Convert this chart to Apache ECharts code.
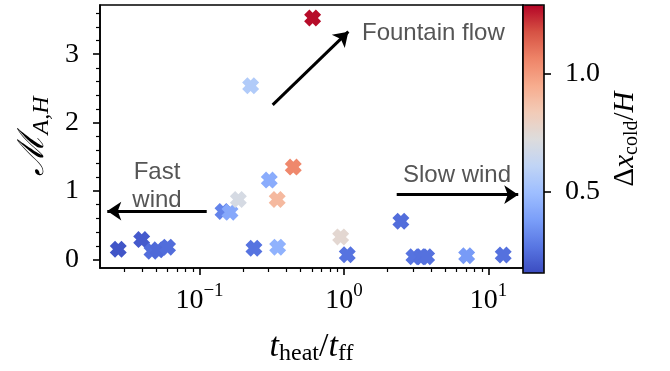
<!DOCTYPE html>
<html><head><meta charset="utf-8">
<script src="https://cdn.jsdelivr.net/npm/echarts@6/dist/echarts.min.js"></script>
<style>html,body{margin:0;padding:0;background:#fff}#c{width:670px;height:371px}</style>
</head><body><div id="c"></div>
<script>
// ---- data ----
const tHeat  = [0.0274, 0.0398, 0.0469, 0.0516, 0.0601, 0.1455, 0.1626, 0.1858, 0.2259, 0.2382, 0.3041, 0.3451, 0.3475, 0.4457, 0.6067, 0.9484, 1.054, 2.477, 3.048, 3.451, 3.733, 7.063, 12.65];
const machA  = [0.15, 0.29, 0.12, 0.14, 0.18, 0.70, 0.69, 0.875, 2.54, 0.165, 1.16, 0.875, 0.18, 1.35, 3.53, 0.33, 0.07, 0.56, 0.04, 0.04, 0.04, 0.055, 0.065];
const dxCold = [0.175, 0.19, 0.24, 0.23, 0.24, 0.30, 0.415, 0.69, 0.56, 0.255, 0.43, 0.905, 0.45, 1.055, 1.283, 0.757, 0.255, 0.24, 0.255, 0.25, 0.25, 0.37, 0.25];
const xMajorExp = [-1, 0, 1];
const yMajorTicks = [0, 1, 2, 3];
const cbarTicks = [0.5, 1.0];
const xRange = [0.02048, 17.34];
const yRange = [-0.125, 3.72];
const cRange = [0.152, 1.294];
const coolwarm = ['#3b4cc0','#5977e3','#7b9ff9','#9ebeff','#c0d4f5','#dddcdc','#f2cbb7','#f7ac8e','#ee8468','#d65244','#b40426'];
// arrows in data coords [x (t_heat/t_ff), y]
const arrowFountain = [[0.321, 2.26], [1.072, 3.33]];
const arrowFast = [[0.1122, 0.707], [0.0230, 0.707]];
const arrowSlow = [[2.317, 0.947], [16.07, 0.947]];

const lx0 = Math.log10(xRange[0]), lx1 = Math.log10(xRange[1]);
const xMinor = [];
for (let n = -2; n <= 1; n++) for (let k = 2; k <= 9; k++) {
  const v = Math.log10(k * Math.pow(10, n));
  if (v > lx0 && v < lx1) xMinor.push(v);
}
const yMinor = [];
for (let k = 1; k <= 18; k++) if (k % 5 !== 0) yMinor.push(Math.round(k * 2) / 10);

const SERIF = 'Liberation Serif';
const SANS = 'Liberation Sans';
const XPATH = 'path://M200,138 L138,200 L100,162 L62,200 L0,138 L38,100 L0,62 L62,0 L100,38 L138,0 L200,62 L162,100 Z';
const TICKFS = 28;

const chart = echarts.init(document.getElementById('c'), null, {renderer: 'canvas'});
const arrowLine = (a) => [{coord: [Math.log10(a[0][0]), a[0][1]]}, {coord: [Math.log10(a[1][0]), a[1][1]]}];
const lineOff = {show: false, onZero: false};

chart.setOption({
  animation: false,
  grid: [
    {left: 100, top: 5, width: 423, height: 268, show: true, borderColor: '#000', borderWidth: 1.6, backgroundColor: 'transparent'},
    {left: 523, top: 5, width: 21, height: 268, show: true, borderColor: '#000', borderWidth: 1.6, backgroundColor: 'transparent', z: 10}
  ],
  xAxis: [
    {gridIndex: 0, type: 'value', min: lx0, max: lx1,
     axisLine: {show: true, onZero: false, lineStyle: {color: '#000', width: 1.6}},
     axisTick: {show: true, customValues: xMajorExp, length: 7, lineStyle: {color: '#000', width: 1.6}},
     axisLabel: {show: true, customValues: xMajorExp, margin: 14, color: '#000',
       formatter: v => '{b|10}{s|' + (v < 0 ? '\u2212' : '') + Math.abs(v) + '}',
       rich: {b: {fontFamily: SERIF, fontSize: TICKFS, color: '#000'},
              s: {fontFamily: SERIF, fontSize: 19, color: '#000', padding: [0, 0, 18, 0]}}},
     splitLine: {show: false},
     name: '{t|t}{s|heat}{n|/}{t|t}{s|ff}', nameLocation: 'middle', nameGap: 60,
     nameTextStyle: {rich: {
       t: {fontFamily: SERIF, fontSize: 34, fontStyle: 'italic', color: '#000'},
       n: {fontFamily: SERIF, fontSize: 34, color: '#000'},
       s: {fontFamily: SERIF, fontSize: 24, color: '#000', padding: [14, 0, 0, 0]}}}},
    {gridIndex: 0, type: 'value', min: lx0, max: lx1, position: 'bottom',
     axisLine: lineOff,
     axisTick: {show: true, customValues: xMinor, length: 4, lineStyle: {color: '#000', width: 1.2}},
     axisLabel: {show: false}, splitLine: {show: false}},
    {gridIndex: 1, type: 'value', min: 0, max: 1, show: false, axisLine: lineOff}
  ],
  yAxis: [
    {gridIndex: 0, type: 'value', min: yRange[0], max: yRange[1],
     axisLine: {show: true, onZero: false, lineStyle: {color: '#000', width: 1.6}},
     axisTick: {show: true, customValues: yMajorTicks, length: 7, lineStyle: {color: '#000', width: 1.6}},
     axisLabel: {show: true, customValues: yMajorTicks, margin: 21, color: '#000', fontFamily: SERIF, fontSize: TICKFS},
     splitLine: {show: false},
     name: '{m|\u2133}{s|A,H}', nameLocation: 'middle', nameGap: 46, nameRotate: 90,
     nameTextStyle: {rich: {
       m: {fontFamily: 'DejaVu Serif', fontSize: 36, fontStyle: 'italic', color: '#000'},
       s: {fontFamily: SERIF, fontSize: 24, fontStyle: 'italic', color: '#000', padding: [16, 0, 0, 0]}}}},
    {gridIndex: 0, type: 'value', min: yRange[0], max: yRange[1], position: 'left',
     axisLine: lineOff,
     axisTick: {show: true, customValues: yMinor, length: 4, lineStyle: {color: '#000', width: 1.2}},
     axisLabel: {show: false}, splitLine: {show: false}},
    {gridIndex: 1, type: 'value', min: cRange[0], max: cRange[1], position: 'right',
     axisLine: lineOff,
     axisTick: {show: true, customValues: cbarTicks, length: 7, lineStyle: {color: '#000', width: 1.6}},
     axisLabel: {show: true, customValues: cbarTicks, margin: 21, color: '#000', fontFamily: SERIF, fontSize: TICKFS,
       formatter: v => v.toFixed(1)},
     splitLine: {show: false},
     name: '{d|\u0394}{x|x}{s|cold}{n|/}{x|H}', nameLocation: 'middle', nameGap: 64, nameRotate: 90,
     nameTextStyle: {rich: {
       d: {fontFamily: SERIF, fontSize: 29, color: '#000'},
       x: {fontFamily: SERIF, fontSize: 29, fontStyle: 'italic', color: '#000'},
       n: {fontFamily: SERIF, fontSize: 29, color: '#000'},
       s: {fontFamily: SERIF, fontSize: 20, color: '#000', padding: [14, 0, 0, 0]}}}}
  ],
  visualMap: {
    type: 'continuous', seriesIndex: 0, dimension: 2, min: cRange[0], max: cRange[1],
    inRange: {color: coolwarm}, orient: 'vertical', left: 523, top: 5,
    itemWidth: 21, itemHeight: 268, padding: 0, calculable: false, hoverLink: false, text: null
  },
  series: [
    {type: 'scatter', xAxisIndex: 0, yAxisIndex: 0,
     data: tHeat.map((x, i) => [Math.log10(x), machA[i], dxCold[i]]),
     symbol: XPATH, symbolSize: 17, itemStyle: {opacity: 1}},
    {type: 'scatter', xAxisIndex: 0, yAxisIndex: 0, data: [],
     markLine: {silent: true, symbol: ['none', 'arrow'], symbolSize: [14, 14],
       label: {show: false}, lineStyle: {color: '#000', width: 3, type: 'solid'},
       itemStyle: {color: '#000'},
       emphasis: {disabled: true},
       data: [arrowLine(arrowFountain), arrowLine(arrowFast), arrowLine(arrowSlow)]}}
  ],
  graphic: [
    {type: 'text', x: 362, y: 33, style: {text: 'Fountain flow', fontFamily: SANS, fontSize: 24, fill: '#555555', align: 'left', verticalAlign: 'middle'}},
    {type: 'text', x: 157, y: 186, style: {text: 'Fast\nwind', fontFamily: SANS, fontSize: 24, lineHeight: 28, fill: '#555555', align: 'center', verticalAlign: 'middle'}},
    {type: 'text', x: 457, y: 175, style: {text: 'Slow wind', fontFamily: SANS, fontSize: 24, fill: '#555555', align: 'center', verticalAlign: 'middle'}}
  ]
});
</script></body></html>
